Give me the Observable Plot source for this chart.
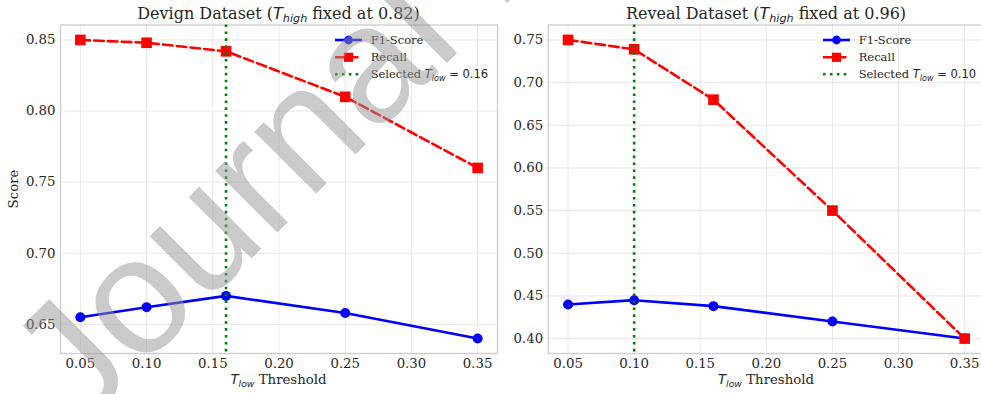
<!DOCTYPE html>
<html>
<head>
<meta charset="utf-8">
<script src="https://cdn.jsdelivr.net/npm/d3@7"></script>
<script src="https://cdn.jsdelivr.net/npm/@observablehq/plot@0.6"></script>
<style>
  html, body { margin: 0; padding: 0; background: #fff; overflow: hidden; }
  #wrap { position: relative; width: 981px; height: 394px; overflow: hidden; }
  #wrap > svg, #wrap > div { position: absolute; top: 0; }
  .plt text { font-family: "DejaVu Serif" !important; }
</style>
</head>
<body>
<div id="wrap"></div>
<script>
// ---- data ----
const thresholds = [0.05, 0.10, 0.16, 0.25, 0.35];
const xTicks = [0.05, 0.10, 0.15, 0.20, 0.25, 0.30, 0.35];

const devignF1 = [0.655, 0.662, 0.670, 0.658, 0.640];
const devignRecall = [0.850, 0.848, 0.842, 0.810, 0.760];
const devignSelected = 0.16;
const devignHigh = "0.82";
const devignYTicks = [0.65, 0.70, 0.75, 0.80, 0.85];

const revealF1 = [0.440, 0.445, 0.438, 0.420, 0.400];
const revealRecall = [0.750, 0.739, 0.680, 0.550, 0.400];
const revealSelected = 0.10;
const revealHigh = "0.96";
const revealYTicks = [0.40, 0.45, 0.50, 0.55, 0.60, 0.65, 0.70, 0.75];

const seriesNames = ["F1-Score", "Recall"];

// ---- helpers ----
const SERIF = "DejaVu Serif";
const SANS = "DejaVu Sans";
const TXT = "#262626";

function yDomain(a, b) {
  const lo = Math.min(...a, ...b), hi = Math.max(...a, ...b);
  const m = (hi - lo) * 0.05;
  return [lo - m, hi + m];
}
function xDomain() {
  const lo = d3.min(thresholds), hi = d3.max(thresholds);
  const m = (hi - lo) * 0.05;
  return [lo - m, hi + m];
}

function panel({f1, recall, selected, yTicks, width, marginLeft, marginRight}) {
  const f1Data = thresholds.map((t, i) => ({t, v: f1[i]}));
  const recData = thresholds.map((t, i) => ({t, v: recall[i]}));
  return Plot.plot({
    className: "plt",
    width, height: 394,
    marginLeft, marginRight, marginTop: 24.5, marginBottom: 41,
    style: {fontFamily: SERIF, fontSize: "13.3px", color: TXT, background: "transparent", overflow: "visible"},
    x: {domain: xDomain(), ticks: xTicks, tickFormat: ".2f", label: null},
    y: {domain: yDomain(f1, recall), ticks: yTicks, tickFormat: ".2f", label: null},
    marks: [
      Plot.gridX(xTicks, {stroke: "#e8e8e8", strokeOpacity: 1, strokeWidth: 1}),
      Plot.gridY(yTicks, {stroke: "#e8e8e8", strokeOpacity: 1, strokeWidth: 1}),
      Plot.frame({stroke: "#cccccc", strokeWidth: 1.3}),
      Plot.axisX(xTicks, {tickSize: 0, tickPadding: 5, tickFormat: ".2f", fontSize: 13.3, fontFamily: SERIF, fill: TXT}),
      Plot.axisY(yTicks, {tickSize: 0, tickPadding: 5, tickFormat: ".2f", fontSize: 13.3, fontFamily: SERIF, fill: TXT}),
      Plot.line(f1Data, {x: "t", y: "v", stroke: "#0000ff", strokeWidth: 2.6}),
      Plot.dot(f1Data, {x: "t", y: "v", r: 5, fill: "#0000ff", symbol: "circle"}),
      Plot.line(recData, {x: "t", y: "v", stroke: "#ff0000", strokeWidth: 2.6, strokeDasharray: "9.6,4.2"}),
      Plot.dot(recData, {x: "t", y: "v", r: 6, fill: "#ff0000", symbol: "square"}),
      Plot.ruleX([selected], {stroke: "#008000", strokeWidth: 2.6, strokeDasharray: "2.6,4.3"})
    ]
  });
}

const wrap = document.getElementById("wrap");

const left = panel({f1: devignF1, recall: devignRecall, selected: devignSelected, yTicks: devignYTicks,
  width: 500, marginLeft: 60, marginRight: 3});
left.style.left = "0px";
wrap.appendChild(left);

const right = panel({f1: revealF1, recall: revealRecall, selected: revealSelected, yTicks: revealYTicks,
  width: 490, marginLeft: 47.7, marginRight: 6});
right.style.left = "500px";
wrap.appendChild(right);

// ---- text overlay: titles, axis labels, legends ----
const ov = d3.select(wrap).append("svg")
  .attr("width", 981).attr("height", 394)
  .style("left", "0px").style("overflow", "hidden");

function mathT(sel, sub, size, subSize) {
  sel.append("tspan").attr("font-family", SANS).attr("font-style", "italic").text("T");
  sel.append("tspan").attr("font-family", SANS).attr("font-style", "italic")
    .attr("font-size", subSize).attr("dy", size * 0.22).text(sub);
}

function title(cx, name, high) {
  const t = ov.append("text").attr("x", cx).attr("y", 18.5).attr("text-anchor", "middle")
    .attr("font-family", SERIF).attr("font-size", 16).attr("fill", TXT);
  t.append("tspan").text(name + " (");
  mathT(t, "high", 16, 11.2);
  t.append("tspan").attr("dy", -16 * 0.22).text(" fixed at " + high + ")");
}
title(278.5, "Devign Dataset", devignHigh);
title(766, "Reveal Dataset", revealHigh);

function xlabel(cx) {
  const t = ov.append("text").attr("x", cx).attr("y", 384).attr("text-anchor", "middle")
    .attr("font-family", SERIF).attr("font-size", 13.3).attr("fill", TXT);
  mathT(t, "low", 13.3, 9.3);
  t.append("tspan").attr("dy", -13.3 * 0.22).text(" Threshold");
}
xlabel(278.5);
xlabel(766);

ov.append("text").attr("transform", "translate(18,189) rotate(-90)").attr("text-anchor", "middle")
  .attr("font-family", SERIF).attr("font-size", 13.3).attr("fill", TXT).text("Score");

function legend(x0, selected) {
  const rows = [40, 57.3, 74.3];
  const hx1 = x0, hx2 = x0 + 27, hm = x0 + 13.5, tx = x0 + 35.7;
  ov.append("line").attr("x1", hx1).attr("x2", hx2).attr("y1", rows[0]).attr("y2", rows[0])
    .attr("stroke", "#0000ff").attr("stroke-width", 2.6);
  ov.append("circle").attr("cx", hm).attr("cy", rows[0]).attr("r", 4.4).attr("fill", "#0000ff");
  ov.append("line").attr("x1", hx1).attr("x2", hx2).attr("y1", rows[1]).attr("y2", rows[1])
    .attr("stroke", "#ff0000").attr("stroke-width", 2.6).attr("stroke-dasharray", "9.6,4.2");
  ov.append("rect").attr("x", hm - 4.6).attr("y", rows[1] - 4.6).attr("width", 9.2).attr("height", 9.2).attr("fill", "#ff0000");
  ov.append("line").attr("x1", hx1).attr("x2", hx2).attr("y1", rows[2]).attr("y2", rows[2])
    .attr("stroke", "#008000").attr("stroke-width", 2.6).attr("stroke-dasharray", "2.6,4.3");
  const fs = 11.5;
  [seriesNames[0], seriesNames[1]].forEach((n, i) => {
    ov.append("text").attr("x", tx).attr("y", rows[i] + 4).attr("font-family", SERIF)
      .attr("font-size", fs).attr("fill", TXT).text(n);
  });
  const t = ov.append("text").attr("x", tx).attr("y", rows[2] + 4).attr("font-family", SERIF)
    .attr("font-size", fs).attr("fill", TXT);
  t.append("tspan").text("Selected ");
  mathT(t, "low", fs, 8.1);
  t.append("tspan").attr("dy", -fs * 0.22).attr("font-family", SANS).text(" = " + selected.toFixed(2));
}
legend(335, devignSelected);
legend(823, revealSelected);

// ---- watermark ----
ov.append("text").attr("x", 80).attr("y", 430)
  .attr("transform", "rotate(-45 80 430)")
  .attr("font-family", "Liberation Sans").attr("font-size", 166)
  .attr("fill", "rgb(150,150,150)").attr("fill-opacity", 0.5)
  .text("Journal Pre-proof");
</script>
</body>
</html>
